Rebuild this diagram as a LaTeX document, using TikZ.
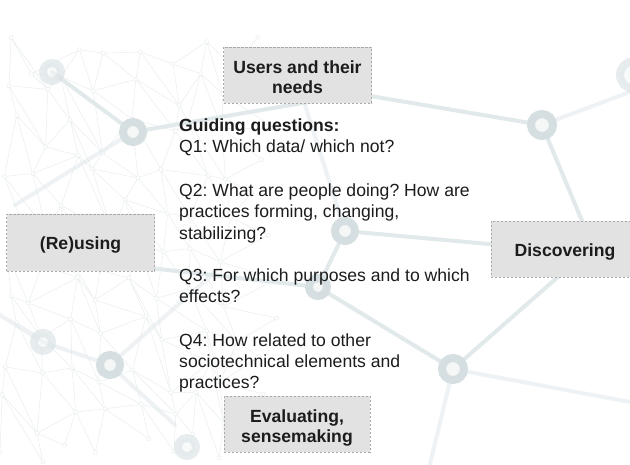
\documentclass[tikz,border=0pt]{standalone}
\usepackage{fontspec}
\setmainfont{Liberation Sans}
\frenchspacing
\definecolor{ink}{HTML}{1C1C1C}
\definecolor{boxfill}{HTML}{E2E2E2}
\definecolor{boxline}{HTML}{A9A9A9}
\definecolor{hubcol}{HTML}{D5DFE2}
\definecolor{hubin}{HTML}{F5F7F7}
\definecolor{linkcol}{HTML}{E1E9EB}
\definecolor{meshcol}{HTML}{E9EEEF}
\begin{document}
\begin{tikzpicture}[x=1pt,y=-1pt,
  stagebox/.style={draw=boxline, dash pattern=on 2.2pt off 1.8pt, line width=0.8pt,
    fill=boxfill, minimum width=148pt, minimum height=56pt, inner sep=0pt,
    align=center, text=ink, font=\fontsize{17.6}{20}\selectfont\bfseries,
    text height=17pt, text depth=3pt},
  twoline/.style={text height=36pt, text depth=0pt},
  qline/.style={anchor=base west, inner sep=0pt, text=ink,
    font=\fontsize{17.6}{21.5}\selectfont},
  hub/.style={draw=hubcol, line width=8pt, fill=hubin},
  faint/.style={opacity=0.55},
  link/.style={draw=linkcol, line width=4pt, line cap=round},
  mesh/.style={draw=meshcol, line width=0.5pt}]

% canvas
\path[use as bounding box, fill=white] (0,0) rectangle (630,464);

% fine mesh of the background network
\pgfmathsetseed{42}
\foreach \i in {0,...,8}{
  \foreach \j in {0,...,10}{
    \pgfmathsetmacro\px{8+32*\i+13*rand}
    \pgfmathsetmacro\py{45+40*\j+13*rand+16*mod(\i,2)}
    \coordinate (m-\i-\j) at (\px,\py);
  }
}
\foreach \i [evaluate=\i as \ni using int(\i+1)] in {0,...,7}{
  \foreach \j [evaluate=\j as \nj using int(\j+1)] in {0,...,9}{
    \draw[mesh] (m-\i-\j) -- (m-\ni-\j) (m-\i-\j) -- (m-\i-\nj) (m-\i-\j) -- (m-\ni-\nj);
  }
}
\foreach \i in {0,...,8}{
  \foreach \j in {0,...,10}{
    \draw[mesh, fill=white] (m-\i-\j) circle (2);
  }
}

% hubs of the background network
\coordinate (hA) at (133,132);
\coordinate (hB) at (52,72);
\coordinate (hC) at (542,125);
\coordinate (hD) at (345,231);
\coordinate (hH) at (318,287);
\coordinate (hG) at (453,369);
\coordinate (hE) at (43,342);
\coordinate (hF) at (110,365);
\coordinate (hI) at (187,447);
\coordinate (hJ) at (634,75);
% loose ends of the links
\coordinate (eA1) at (320,100);
\coordinate (eA2) at (15,205);
\coordinate (eC0) at (335,90);
\coordinate (eC1) at (590,240);
\coordinate (eC2) at (630,92);
\coordinate (eD0) at (305,105);
\coordinate (eD1) at (500,245);
\coordinate (eG1) at (575,262);
\coordinate (eG2) at (630,402);
\coordinate (eG3) at (430,464);
\coordinate (eH1) at (150,268);
\coordinate (eF1) at (215,272);
\coordinate (eF2) at (175,425);
\coordinate (eE1) at (0,315);

\draw[link] (hA) -- (hB);
\draw[link] (hA) -- (eA1);
\draw[link, faint] (hA) -- (eA2);
\draw[link] (eC0) -- (hC);
\draw[link] (hC) -- (eC1);
\draw[link, faint] (hC) -- (eC2);
\draw[link] (hD) -- (eD1);
\draw[link, faint] (eD0) -- (hD);
\draw[link] (hD) -- (hH);
\draw[link] (hH) -- (hG);
\draw[link] (hG) -- (eG1);
\draw[link, faint] (hG) -- (eG2);
\draw[link, faint] (hG) -- (eG3);
\draw[link] (hH) -- (eH1);
\draw[link, faint] (hF) -- (eF1);
\draw[link, faint] (hF) -- (eF2);
\draw[link, faint] (hF) -- (hE);
\draw[link, faint] (hE) -- (eE1);

\draw[hub] (hA) circle (10);
\draw[hub, faint] (hB) circle (9);
\draw[hub] (hC) circle (11);
\draw[hub] (hD) circle (10);
\draw[hub] (hH) circle (9);
\draw[hub] (hG) circle (11);
\draw[hub, faint] (hE) circle (9);
\draw[hub] (hF) circle (10);
\draw[hub, faint] (hI) circle (9);
\draw[hub, faint] (hJ) circle (14);

% the four stages
\node[stagebox, twoline] (users) at (297.5,75) {Users and their\\needs};
\node[stagebox, minimum height=57pt] (reusing) at (80.5,242.5) {(Re)using};
\node[stagebox] (discovering) at (565,249) {Discovering};
\node[stagebox, twoline, minimum width=146pt] (evaluating) at (297,424) {Evaluating,\\sensemaking};

% guiding questions
\node[qline, font=\fontsize{17.6}{21.5}\selectfont\bfseries] (qhead) at (179,131) {Guiding questions:};
\node[qline] (q1a) at (179,152) {Q1: Which data/ which not?};
\node[qline] (q2a) at (179,196) {Q2: What are people doing? How are};
\node[qline] (q2b) at (179,217.5) {practices forming, changing,};
\node[qline] (q2c) at (179,239) {stabilizing?};
\node[qline] (q3a) at (179,281) {Q3: For which purposes and to which};
\node[qline] (q3b) at (179,302.5) {effects?};
\node[qline] (q4a) at (179,346) {Q4: How related to other};
\node[qline] (q4b) at (179,367) {sociotechnical elements and};
\node[qline] (q4c) at (179,388) {practices?};
\end{tikzpicture}
\end{document}
